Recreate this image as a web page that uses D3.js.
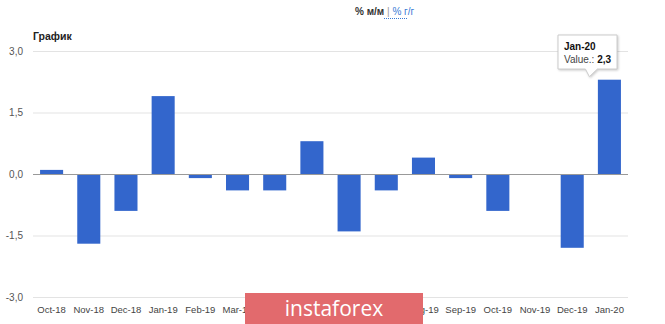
<!DOCTYPE html>
<html><head><meta charset="utf-8">
<script src="https://cdn.jsdelivr.net/npm/d3@7"></script>
<style>body{margin:0;background:#fff;font-family:"Liberation Sans",Arial,sans-serif}</style>
</head><body><svg id="c" width="665" height="324"></svg>
<script>
const categories = ["Oct-18","Nov-18","Dec-18","Jan-19","Feb-19","Mar-19","Apr-19","May-19","Jun-19","Jul-19","Aug-19","Sep-19","Oct-19","Nov-19","Dec-19","Jan-20"];
const values = [0.1,-1.7,-0.9,1.9,-0.1,-0.4,-0.4,0.8,-1.4,-0.4,0.4,-0.1,-0.9,0.0,-1.8,2.3];
const yTicks = [-3.0,-1.5,0.0,1.5,3.0];

const svg = d3.select("#c");
const x = d3.scaleBand().domain(categories).range([33,628]).paddingInner(0.38).paddingOuter(0.19);
const y = d3.scaleLinear().domain([-3,3]).range([297,51]);
const fmt = v => d3.format(".1f")(v).replace(".",",").replace("−","-");

// header
const hdr = svg.append("text").attr("x",355).attr("y",15).attr("font-size",10).attr("font-weight","bold").attr("fill","#333");
hdr.append("tspan").text("% м/м ");
hdr.append("tspan").attr("fill","#999").attr("font-weight","normal").text("| ");
hdr.append("tspan").attr("fill","#3a7bd5").attr("font-weight","normal").text("% г/г");
svg.append("line").attr("x1",384).attr("x2",408).attr("y1",18.5).attr("y2",18.5).attr("stroke","#3a7bd5").attr("stroke-dasharray","1,1");
svg.append("text").attr("x",33).attr("y",40).attr("font-size",10.5).attr("font-weight","bold").attr("fill","#222").text("График");

// grid
const yAxis = svg.append("g").attr("transform","translate(33,0)")
  .call(d3.axisLeft(y).tickValues(yTicks).tickSize(-595).tickFormat(fmt));
yAxis.select(".domain").remove();
yAxis.selectAll(".tick line").attr("stroke",d=>d===0?"#999":"#e3e3e3");
yAxis.selectAll(".tick text").attr("x",-10).attr("fill","#555").attr("font-size",10).attr("font-family","Liberation Sans, Arial, sans-serif");

// bars
svg.append("g").selectAll("rect").data(values).join("rect")
  .attr("x",(d,i)=>x(categories[i]))
  .attr("width",x.bandwidth())
  .attr("y",d=>y(Math.max(0,d)))
  .attr("height",d=>Math.abs(y(d)-y(0)))
  .attr("fill","#3366cc");
// redraw zero line on top
svg.append("line").attr("x1",33).attr("x2",628).attr("y1",y(0)+0.5).attr("y2",y(0)+0.5).attr("stroke","#999");

// x axis
const xAxis = svg.append("g").attr("transform","translate(0,"+y(-3)+")")
  .call(d3.axisBottom(x).tickSize(0).tickPadding(9));
xAxis.select(".domain").remove();
xAxis.selectAll(".tick text").attr("fill","#444").attr("font-size",9.5).attr("font-family","Liberation Sans, Arial, sans-serif");

// tooltip
const li = categories.length-1;
const tx = x(categories[li]) + x.bandwidth()/2;
const tg = svg.append("g");
tg.append("path")
  .attr("d",`M558,35 H617 V69 H${tx-12} L${tx-20},${y(values[li])-3} L${tx-24},69 H558 Z`)
  .attr("fill","#fff").attr("stroke","#ccc").attr("stroke-width",1)
  .style("filter","drop-shadow(1px 1px 1px rgba(0,0,0,0.2))");
tg.append("text").attr("x",564).attr("y",50).attr("font-size",10).attr("font-weight","bold").attr("fill","#111").text(categories[li]);
const tv = tg.append("text").attr("x",564).attr("y",63).attr("font-size",10).attr("fill","#444");
tv.append("tspan").text("Value.: ");
tv.append("tspan").attr("font-weight","bold").attr("fill","#111").text(fmt(values[li]));

// watermark
svg.append("rect").attr("x",245).attr("y",293).attr("width",178).attr("height",31).attr("fill","#e26a6d");
svg.append("text").attr("x",334).attr("y",316).attr("text-anchor","middle").attr("font-size",21).attr("fill","#fff")
  .attr("font-family","Open Sans, sans-serif").text("instaforex");
</script></body></html>
